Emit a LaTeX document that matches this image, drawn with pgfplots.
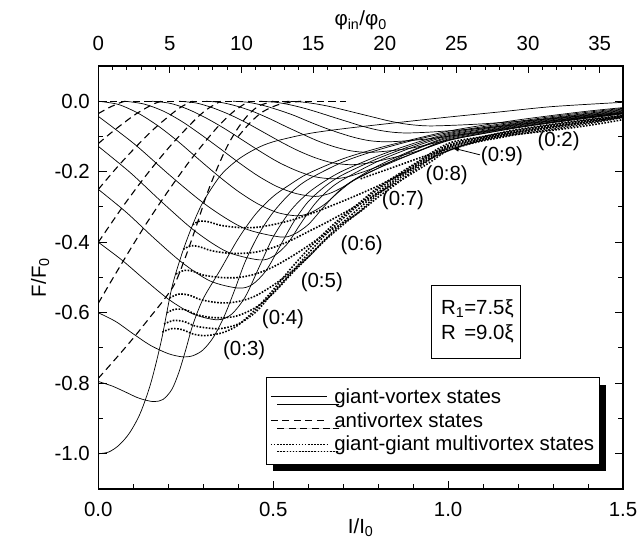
\documentclass[border=0pt]{standalone}
\usepackage{fontspec}
\setmainfont{Liberation Sans}
\usepackage{pgfplots}
\pgfplotsset{compat=1.18}
\usetikzlibrary{shadows,arrows.meta}

\begin{document}
\begin{tikzpicture}[font=\fontsize{20.5}{24.6}\selectfont]
\pgfplotsset{
  gv/.style={black, line width=0.7bp, smooth, forget plot},
  av/.style={black, line width=1.1bp, dash pattern=on 7bp off 4.5bp, smooth, forget plot},
  mv/.style={black, line width=1.6bp, dash pattern=on 1.6bp off 1.5bp, smooth, forget plot},
}
\begin{axis}[
  width=524.7bp, height=423bp, scale only axis,
  xmin=0, xmax=1.5, ymin=-1.1, ymax=0.1,
  xtick={0,0.5,1,1.5}, xticklabels={0.0,0.5,1.0,1.5},
  minor x tick num=4, xtick pos=lower,
  ytick={-1,-0.8,-0.6,-0.4,-0.2,0},
  yticklabels={-1.0,-0.8,-0.6,-0.4,-0.2,0.0},
  minor y tick num=1, ytick pos=both, yticklabel pos=left,
  major tick length=8.5bp, minor tick length=5bp,
  axis line style={line width=1.2bp},
  every tick/.style={black, line width=1bp},
  xticklabel style={anchor=base, yshift=-27.7bp},
  yticklabel style={anchor=east, inner sep=0pt, xshift=-8.3bp},
  every axis x label/.style={at={(axis description cs:0.5,0)}, anchor=base, yshift=-44bp},
  every axis y label/.style={at={(axis description cs:0,0.5)}, xshift=-52.3bp, rotate=90, anchor=base},
  xlabel={I/I\textsubscript{0}},
  ylabel={F/F\textsubscript{0}},
  legend style={at={(axis description cs:0.3196,0.2655)}, anchor=north west,
    draw=black, line width=0.8bp, fill=white, inner xsep=4bp, inner ysep=10bp,
    row sep=4.5bp, nodes={inner sep=1.5bp},
    drop shadow={shadow xshift=6.5bp, shadow yshift=-7.5bp, fill=black, opacity=1},
    font=\fontsize{20.5}{24.6}\selectfont},
  legend cell align=left,
  legend image code/.code={\draw[#1, line width=0.8bp] (0bp,0bp) -- (56bp,0bp);
                           \draw[draw=none] (56bp,0bp) -- (62bp,0bp);},
]
% ---------- giant-vortex states (solid) ----------
\addplot[gv] coordinates {(0,-1.0)(0.03,-0.995)(0.06,-0.975)(0.09,-0.94)(0.12,-0.885)(0.15,-0.80)(0.18,-0.68)(0.21,-0.53)(0.24,-0.43)(0.27,-0.35)(0.30,-0.285)(0.35,-0.21)(0.40,-0.165)(0.45,-0.135)(0.5,-0.115)(0.6,-0.092)(0.7,-0.078)(0.86,-0.06)(1.0,-0.045)(1.15,-0.03)(1.3,-0.015)(1.5,-0.003)};
\addplot[gv] coordinates {(0,-0.795)(0.04,-0.808)(0.08,-0.826)(0.11,-0.840)(0.135,-0.848)(0.16,-0.852)(0.185,-0.846)(0.21,-0.818)(0.23,-0.77)(0.25,-0.705)(0.27,-0.635)(0.30,-0.56)(0.349,-0.478)(0.40,-0.39)(0.45,-0.32)(0.50,-0.27)(0.55,-0.235)(0.60,-0.205)(0.70,-0.163)(0.80,-0.133)(0.90,-0.108)(1.0,-0.085)(1.1,-0.068)(1.2,-0.053)(1.3,-0.040)(1.4,-0.028)(1.5,-0.018)};
\addplot[gv] coordinates {(0,-0.60)(0.05,-0.625)(0.10,-0.66)(0.15,-0.693)(0.20,-0.716)(0.24,-0.725)(0.27,-0.722)(0.30,-0.705)(0.33,-0.668)(0.36,-0.61)(0.39,-0.535)(0.42,-0.455)(0.46,-0.375)(0.50,-0.315)(0.55,-0.26)(0.60,-0.222)(0.70,-0.172)(0.80,-0.138)(0.90,-0.111)(1.0,-0.089)(1.1,-0.072)(1.2,-0.057)(1.3,-0.043)(1.4,-0.031)(1.5,-0.020)};
\addplot[gv] coordinates {(0,-0.40)(0.068,-0.451)(0.136,-0.509)(0.204,-0.564)(0.272,-0.604)(0.34,-0.62)(0.38,-0.605)(0.42,-0.555)(0.46,-0.47)(0.50,-0.385)(0.55,-0.31)(0.60,-0.26)(0.65,-0.225)(0.70,-0.197)(0.80,-0.155)(0.90,-0.12)(1.0,-0.092)(1.1,-0.075)(1.2,-0.060)(1.3,-0.046)(1.4,-0.034)(1.5,-0.022)};
\addplot[gv] coordinates {(0,-0.25)(0.08,-0.315)(0.16,-0.389)(0.24,-0.458)(0.32,-0.51)(0.40,-0.53)(0.44,-0.52)(0.48,-0.48)(0.52,-0.41)(0.56,-0.34)(0.60,-0.285)(0.65,-0.24)(0.70,-0.208)(0.80,-0.162)(0.90,-0.125)(1.0,-0.095)(1.1,-0.078)(1.2,-0.062)(1.3,-0.048)(1.4,-0.036)(1.5,-0.024)};
\addplot[gv] coordinates {(0,-0.128)(0.092,-0.203)(0.184,-0.288)(0.276,-0.368)(0.368,-0.427)(0.46,-0.45)(0.50,-0.44)(0.54,-0.405)(0.58,-0.345)(0.62,-0.29)(0.66,-0.25)(0.70,-0.222)(0.80,-0.17)(0.90,-0.13)(1.0,-0.098)(1.1,-0.080)(1.2,-0.064)(1.3,-0.050)(1.4,-0.038)(1.5,-0.026)};
\addplot[gv] coordinates {(0,-0.043)(0.104,-0.122)(0.208,-0.213)(0.312,-0.297)(0.416,-0.36)(0.52,-0.385)(0.56,-0.377)(0.60,-0.35)(0.64,-0.305)(0.68,-0.262)(0.72,-0.23)(0.80,-0.183)(0.90,-0.138)(1.0,-0.101)(1.1,-0.083)(1.2,-0.066)(1.3,-0.052)(1.4,-0.040)(1.5,-0.028)};
\addplot[gv] coordinates {(0,0)(0.057,-0.009)(0.114,-0.034)(0.171,-0.070)(0.228,-0.114)(0.285,-0.163)(0.342,-0.211)(0.399,-0.255)(0.456,-0.291)(0.513,-0.316)(0.57,-0.325)(0.61,-0.315)(0.65,-0.29)(0.69,-0.255)(0.73,-0.225)(0.80,-0.19)(0.90,-0.14)(1.0,-0.104)(1.1,-0.085)(1.2,-0.068)(1.3,-0.054)(1.4,-0.042)(1.5,-0.030)};
\addplot[gv] coordinates {(0.077,0)(0.131,-0.008)(0.186,-0.028)(0.240,-0.058)(0.294,-0.095)(0.349,-0.135)(0.403,-0.175)(0.457,-0.212)(0.511,-0.242)(0.566,-0.262)(0.62,-0.27)(0.66,-0.262)(0.70,-0.243)(0.74,-0.218)(0.80,-0.19)(0.90,-0.148)(1.0,-0.107)(1.1,-0.087)(1.2,-0.070)(1.3,-0.056)(1.4,-0.044)(1.5,-0.032)};
\addplot[gv] coordinates {(0.154,0)(0.206,-0.006)(0.257,-0.023)(0.309,-0.048)(0.360,-0.077)(0.412,-0.11)(0.464,-0.143)(0.515,-0.173)(0.567,-0.197)(0.618,-0.214)(0.67,-0.22)(0.71,-0.215)(0.75,-0.203)(0.80,-0.185)(0.90,-0.148)(1.0,-0.11)(1.1,-0.089)(1.2,-0.072)(1.3,-0.058)(1.4,-0.045)(1.5,-0.033)};
\addplot[gv] coordinates {(0.231,0)(0.280,-0.005)(0.328,-0.019)(0.378,-0.039)(0.427,-0.063)(0.476,-0.09)(0.525,-0.117)(0.573,-0.141)(0.622,-0.161)(0.671,-0.175)(0.72,-0.18)(0.76,-0.177)(0.80,-0.17)(0.90,-0.145)(1.0,-0.112)(1.1,-0.091)(1.2,-0.074)(1.3,-0.059)(1.4,-0.046)(1.5,-0.034)};
\addplot[gv] coordinates {(0.308,0)(0.354,-0.004)(0.400,-0.015)(0.447,-0.031)(0.493,-0.051)(0.539,-0.073)(0.585,-0.094)(0.631,-0.114)(0.678,-0.13)(0.724,-0.141)(0.77,-0.145)(0.82,-0.142)(0.90,-0.132)(1.0,-0.11)(1.1,-0.092)(1.2,-0.075)(1.3,-0.060)(1.4,-0.047)(1.5,-0.035)};
\addplot[gv] coordinates {(0.385,0)(0.4285,-0.003)(0.472,-0.012)(0.5155,-0.025)(0.559,-0.04)(0.6025,-0.058)(0.646,-0.075)(0.6895,-0.09)(0.733,-0.103)(0.7765,-0.112)(0.82,-0.115)(0.87,-0.113)(0.95,-0.106)(1.05,-0.093)(1.15,-0.080)(1.25,-0.067)(1.35,-0.054)(1.45,-0.042)(1.5,-0.036)};
\addplot[gv] coordinates {(0.462,0)(0.504,-0.0025)(0.545,-0.0094)(0.587,-0.0194)(0.629,-0.0317)(0.671,-0.045)(0.713,-0.058)(0.754,-0.0706)(0.796,-0.081)(0.838,-0.0875)(0.88,-0.09)(0.94,-0.088)(1.0,-0.084)(1.1,-0.076)(1.2,-0.066)(1.3,-0.055)(1.4,-0.044)(1.5,-0.034)};
\addplot[gv] coordinates {(0.539,0)(0.580,-0.002)(0.621,-0.0073)(0.662,-0.015)(0.703,-0.0247)(0.745,-0.035)(0.786,-0.045)(0.827,-0.055)(0.868,-0.063)(0.909,-0.068)(0.95,-0.07)(1.02,-0.068)(1.1,-0.064)(1.2,-0.057)(1.3,-0.049)(1.4,-0.04)(1.5,-0.032)};
% ---------- antivortex states (dashed) ----------
\addplot[av] coordinates {(0,0)(0.706,0)};
\addplot[av] coordinates {(0,-0.786)(0.05,-0.73)(0.10,-0.672)(0.15,-0.61)(0.19,-0.56)(0.22,-0.515)(0.25,-0.44)(0.28,-0.355)(0.31,-0.265)(0.34,-0.19)(0.37,-0.125)(0.40,-0.075)(0.43,-0.037)(0.46,-0.013)(0.50,0)};
\addplot[av] coordinates {(0,-0.573)(0.043,-0.50)(0.086,-0.429)(0.129,-0.36)(0.172,-0.295)(0.215,-0.233)(0.258,-0.174)(0.301,-0.12)(0.344,-0.070)(0.387,-0.029)(0.43,0)};
\addplot[av] coordinates {(0,-0.40)(0.07,-0.299)(0.14,-0.206)(0.21,-0.122)(0.28,-0.049)(0.315,-0.02)(0.35,0)};
\addplot[av] coordinates {(0,-0.25)(0.054,-0.187)(0.108,-0.129)(0.162,-0.076)(0.216,-0.031)(0.243,-0.0125)(0.27,0)};
\addplot[av] coordinates {(0,-0.12)(0.036,-0.09)(0.072,-0.062)(0.108,-0.036)(0.144,-0.015)(0.162,-0.006)(0.18,0)};
\addplot[av] coordinates {(0,-0.035)(0.031,-0.018)(0.062,-0.0043)(0.077,0)};
\addplot[av] coordinates {(0.40,-0.10)(0.434,-0.061)(0.47,-0.03)(0.52,-0.008)(0.58,0)};
% ---------- giant-giant multivortex states (dotted) ----------
\addplot[mv] coordinates {(0.183,-0.655)(0.21,-0.645)(0.24,-0.648)(0.27,-0.66)(0.30,-0.665)(0.33,-0.662)(0.36,-0.655)(0.40,-0.635)(0.45,-0.59)(0.50,-0.535)(0.55,-0.475)(0.60,-0.42)(0.65,-0.37)(0.70,-0.325)(0.75,-0.285)(0.80,-0.245)(0.90,-0.18)(1.00,-0.12)(1.10,-0.10)(1.20,-0.08)(1.35,-0.058)(1.50,-0.040)};
\addplot[mv] coordinates {(0.188,-0.632)(0.215,-0.622)(0.245,-0.625)(0.275,-0.637)(0.31,-0.643)(0.35,-0.645)(0.40,-0.632)(0.45,-0.598)(0.50,-0.542)(0.55,-0.488)(0.60,-0.432)(0.65,-0.378)(0.70,-0.332)(0.75,-0.29)(0.80,-0.25)(0.90,-0.183)(1.00,-0.125)(1.10,-0.101)(1.20,-0.082)(1.35,-0.06)(1.50,-0.041)};
\addplot[mv] coordinates {(0.196,-0.60)(0.22,-0.59)(0.25,-0.592)(0.28,-0.605)(0.32,-0.613)(0.36,-0.614)(0.40,-0.608)(0.45,-0.585)(0.50,-0.545)(0.55,-0.492)(0.60,-0.442)(0.65,-0.39)(0.70,-0.343)(0.75,-0.30)(0.80,-0.258)(0.90,-0.187)(1.00,-0.128)(1.10,-0.103)(1.20,-0.084)(1.35,-0.062)(1.50,-0.042)};
\addplot[mv] coordinates {(0.204,-0.558)(0.23,-0.547)(0.26,-0.55)(0.29,-0.562)(0.33,-0.57)(0.37,-0.572)(0.41,-0.566)(0.45,-0.552)(0.50,-0.522)(0.55,-0.485)(0.60,-0.442)(0.65,-0.393)(0.70,-0.35)(0.75,-0.31)(0.80,-0.264)(0.90,-0.192)(1.00,-0.131)(1.10,-0.105)(1.20,-0.086)(1.35,-0.064)(1.50,-0.043)};
\addplot[mv] coordinates {(0.222,-0.49)(0.245,-0.48)(0.27,-0.482)(0.30,-0.493)(0.35,-0.50)(0.40,-0.50)(0.45,-0.49)(0.50,-0.47)(0.55,-0.442)(0.60,-0.41)(0.65,-0.375)(0.70,-0.345)(0.75,-0.312)(0.80,-0.272)(0.85,-0.236)(0.90,-0.198)(1.00,-0.134)(1.10,-0.107)(1.20,-0.088)(1.35,-0.066)(1.50,-0.044)};
\addplot[mv] coordinates {(0.243,-0.42)(0.265,-0.41)(0.29,-0.413)(0.32,-0.423)(0.36,-0.43)(0.40,-0.432)(0.45,-0.428)(0.50,-0.415)(0.55,-0.395)(0.60,-0.37)(0.65,-0.345)(0.70,-0.318)(0.75,-0.29)(0.80,-0.26)(0.85,-0.233)(0.90,-0.203)(0.95,-0.172)(1.00,-0.14)(1.10,-0.109)(1.20,-0.09)(1.35,-0.068)(1.50,-0.045)};
\addplot[mv] coordinates {(0.27,-0.35)(0.29,-0.34)(0.315,-0.342)(0.35,-0.352)(0.40,-0.358)(0.45,-0.358)(0.50,-0.35)(0.55,-0.338)(0.60,-0.322)(0.65,-0.303)(0.70,-0.283)(0.75,-0.262)(0.80,-0.24)(0.85,-0.215)(0.90,-0.19)(0.95,-0.163)(1.00,-0.14)(1.05,-0.124)(1.10,-0.112)(1.15,-0.103)(1.20,-0.094)(1.35,-0.072)(1.50,-0.046)};
\addplot[mv] coordinates {(0.75,-0.22)(0.85,-0.185)(0.95,-0.15)(1.05,-0.122)(1.15,-0.10)(1.25,-0.088)(1.35,-0.076)(1.45,-0.061)(1.50,-0.052)};
% ---------- legend ----------
\addlegendimage{black, line width=0.7bp}
\addlegendentry{giant-vortex states}
\addlegendimage{black, dash pattern=on 7bp off 4.5bp}
\addlegendentry{antivortex states}
\addlegendimage{black, dash pattern=on 1.6bp off 1.5bp}
\addlegendentry{giant-giant multivortex states}
% ---------- annotations ----------
\node at (axis cs:0.417,-0.706) {(0:3)};
\node at (axis cs:0.528,-0.617) {(0:4)};
\node at (axis cs:0.639,-0.514) {(0:5)};
\node at (axis cs:0.753,-0.407) {(0:6)};
\node at (axis cs:0.871,-0.280) {(0:7)};
\node at (axis cs:0.996,-0.211) {(0:8)};
\node at (axis cs:1.154,-0.157) {(0:9)};
\node at (axis cs:1.316,-0.114) {(0:2)};
\draw[-{Latex[length=7bp,width=4.5bp]}, line width=0.8bp] (axis cs:1.091,-0.152) -- (axis cs:1.011,-0.132);
\node[draw, line width=0.8bp, fill=white, text width=70bp, inner xsep=9.5bp, inner ysep=0pt,
      minimum height=73.3bp, align=left, font=\fontsize{20.5}{25}\selectfont]
  at (axis cs:1.080,-0.625) {R\textsubscript{1}=7.5ξ\\R\hphantom{\textsubscript{1}}=9.0ξ};
\end{axis}
\begin{axis}[
  width=524.7bp, height=423bp, scale only axis,
  xmin=0, xmax=36.63, ymin=0, ymax=1,
  axis x line*=top, hide y axis,
  xtick={0,5,...,35}, xticklabels={0,5,10,15,20,25,30,35},
  minor x tick num=4,
  major tick length=7bp, minor tick length=4bp,
  axis line style={line width=1.2bp},
  every tick/.style={black, line width=1bp},
  xticklabel style={anchor=base, yshift=15.5bp},
  every axis x label/.style={at={(axis description cs:0.5,1)}, anchor=base, yshift=40bp},
  xlabel={φ\textsubscript{in}/φ\textsubscript{0}},
]
\end{axis}
\pgfresetboundingbox
\path (-98.3bp,-64bp) rectangle (542.7bp,489bp);
\end{tikzpicture}
\end{document}
